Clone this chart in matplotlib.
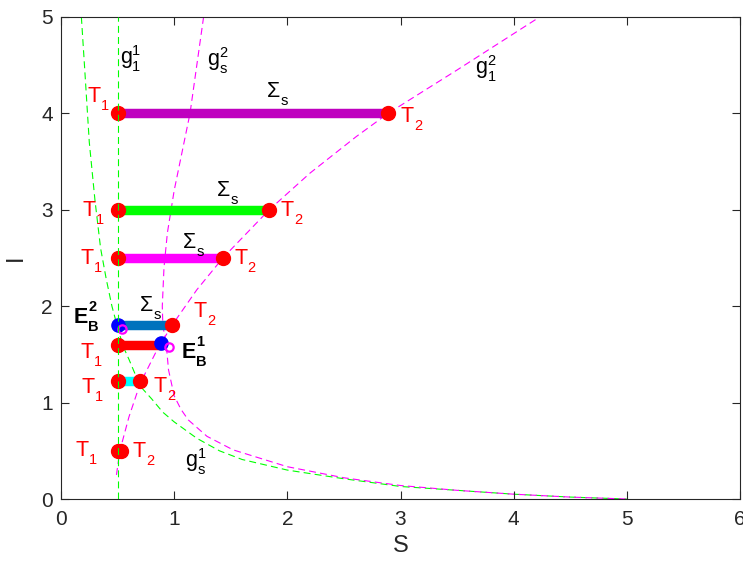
import numpy as np
import matplotlib
matplotlib.use("Agg")
import matplotlib.pyplot as plt

plt.rcParams["font.family"] = ["Liberation Sans", "DejaVu Sans"]
plt.rcParams["lines.scale_dashes"] = False

# dashed curves (S, I)
gs1_S = [0.18, 0.21, 0.25, 0.3, 0.35, 0.4, 0.45, 0.5, 0.55, 0.6, 0.7, 0.8, 0.9,
         1.0, 1.2, 1.4, 1.6, 2.0, 2.5, 3.0, 3.5, 4.0, 4.5, 5.0]
gs1_I = [5.0, 4.45, 3.7, 3.1, 2.6, 2.28, 2.0, 1.78, 1.58, 1.45, 1.17, 1.04, 0.9,
         0.8, 0.63, 0.5, 0.41, 0.3, 0.21, 0.13, 0.09, 0.05, 0.02, 0.0]

gs2_S = [1.26, 1.2, 1.14, 1.07, 1.0, 0.94, 0.91, 0.895, 0.9, 0.93, 0.95, 1.0, 1.06,
         1.125, 1.29, 1.52, 2.0, 2.5, 3.0, 3.5, 4.0, 4.5, 5.0]
gs2_I = [5.0, 4.5, 4.0, 3.6, 3.2, 2.76, 2.4, 2.0, 1.8, 1.6, 1.34, 1.07, 0.93,
         0.82, 0.65, 0.51, 0.335, 0.22, 0.14, 0.09, 0.05, 0.02, 0.0]

g12_S = [0.49, 0.52, 0.6, 0.7, 0.85, 0.98, 1.2, 1.43, 1.84, 2.2, 2.61, 2.89, 3.5, 4.23]
g12_I = [0.25, 0.5, 0.85, 1.2, 1.55, 1.8, 2.17, 2.5, 3.0, 3.38, 3.76, 4.0, 4.45, 5.0]

g11_S = [0.5, 0.5]
g11_I = [0.0, 5.0]

# Sigma_s segments
seg_I = [4.0, 3.0, 2.5, 1.8, 1.6, 1.22]
seg_S0 = [0.5, 0.5, 0.5, 0.5, 0.5, 0.5]
seg_S1 = [2.89, 1.84, 1.43, 0.98, 0.88, 0.70]
seg_col = [(0.75, 0, 0.75), (0, 1, 0), (1, 0, 1), (0, 0.447, 0.741), (1, 0, 0), (0, 1, 1)]

# T1 / T2 points
T1_S = [0.5, 0.5, 0.5, 0.5, 0.5, 0.5]
T1_I = [4.0, 3.0, 2.5, 1.6, 1.22, 0.5]
T2_S = [2.89, 1.84, 1.43, 0.98, 0.70, 0.53]
T2_I = [4.0, 3.0, 2.5, 1.8, 1.22, 0.5]

# equilibria
EB_S = [0.5, 0.88]
EB_I = [1.8, 1.62]
circ_S = [0.54, 0.95]
circ_I = [1.76, 1.58]

# label anchors (left, baseline)
T1_lab = [(0.23, 4.12), (0.19, 2.94), (0.175, 2.44), (0.17, 1.46), (0.18, 1.10), (0.13, 0.45)]
T2_lab = [(3.0, 3.91), (1.94, 2.94), (1.53, 2.44), (1.17, 1.89), (0.815, 1.11), (0.633, 0.44)]
sig_lab = [(1.82, 4.17), (1.375, 3.14), (1.08, 2.60), (0.70, 1.95)]

fig = plt.figure(figsize=(7.43, 5.65), dpi=100)
ax = fig.add_axes([0.0821, 0.1168, 0.9139, 0.8532])

dash = (5, 3)
ax.plot(gs1_S, gs1_I, color=(0, 1, 0), lw=0.8, dashes=dash, zorder=1)
ax.plot(gs2_S, gs2_I, color=(1, 0, 1), lw=0.8, dashes=dash, zorder=1)
ax.plot(g12_S, g12_I, color=(1, 0, 1), lw=0.8, dashes=dash, zorder=1)

for I, s0, s1, c in zip(seg_I, seg_S0, seg_S1, seg_col):
    ax.plot([s0, s1], [I, I], color=c, lw=6.8, solid_capstyle="butt", zorder=2)

ax.plot(T1_S, T1_I, "o", color="red", ms=10, zorder=3)
ax.plot(T2_S, T2_I, "o", color="red", ms=10, zorder=3)
ax.plot(EB_S, EB_I, "o", color="blue", ms=9.5, zorder=4)
ax.plot(circ_S, circ_I, "o", mfc="none", mec=(1, 0, 1), ms=6, mew=1.6, zorder=5)
ax.plot(g11_S, g11_I, color=(0, 1, 0), lw=0.8, dashes=dash, zorder=6)

fs = 15.5
fs2 = 10.5


def label(x, y, base, sub=None, sup=None, color="black", weight="normal", sup_y=0.95):
    t = ax.text(x, y, base, color=color, fontsize=fs, fontweight=weight,
                ha="left", va="baseline", zorder=7)
    if sub:
        ax.annotate(sub, xy=(1, 0.05), xycoords=t, xytext=(0.3, 0), textcoords="offset points",
                    fontsize=fs2, color=color, fontweight=weight, ha="left", va="center")
    if sup:
        ax.annotate(sup, xy=(1, sup_y), xycoords=t, xytext=(0.3, 0), textcoords="offset points",
                    fontsize=fs2, color=color, fontweight=weight, ha="left", va="center")


red = (1, 0, 0)
for x, y in T1_lab:
    label(x, y, "T", sub="1", color=red)
for x, y in T2_lab:
    label(x, y, "T", sub="2", color=red)
for x, y in sig_lab:
    label(x, y, "Σ", sub="s")

label(0.11, 1.83, "E", sub="B", sup="2", weight="bold", sup_y=1.0)
label(1.066, 1.46, "E", sub="B", sup="1", weight="bold", sup_y=1.0)

label(0.52, 4.52, "g", sub="1", sup="1", sup_y=0.8)
label(1.29, 4.50, "g", sub="s", sup="2", sup_y=0.8)
label(3.66, 4.42, "g", sub="1", sup="2", sup_y=0.8)
label(1.10, 0.34, "g", sub="s", sup="1", sup_y=0.8)

ax.set_xlim(0, 6)
ax.set_ylim(0, 5)
ax.set_xticks(range(0, 7))
ax.set_yticks(range(0, 6))
dark = (0.15, 0.15, 0.15)
ax.set_xlabel("S", fontsize=17, color=dark, labelpad=4)
ax.set_ylabel("I", fontsize=17, color=dark, labelpad=10)
ax.tick_params(direction="in", top=True, right=True, length=6, width=0.8,
               labelsize=15, colors=dark)
ax.tick_params(axis="x", pad=8)
ax.tick_params(axis="y", pad=6)
for sp in ax.spines.values():
    sp.set_color(dark)
    sp.set_linewidth(0.8)

fig.savefig("out.png", dpi=100)
